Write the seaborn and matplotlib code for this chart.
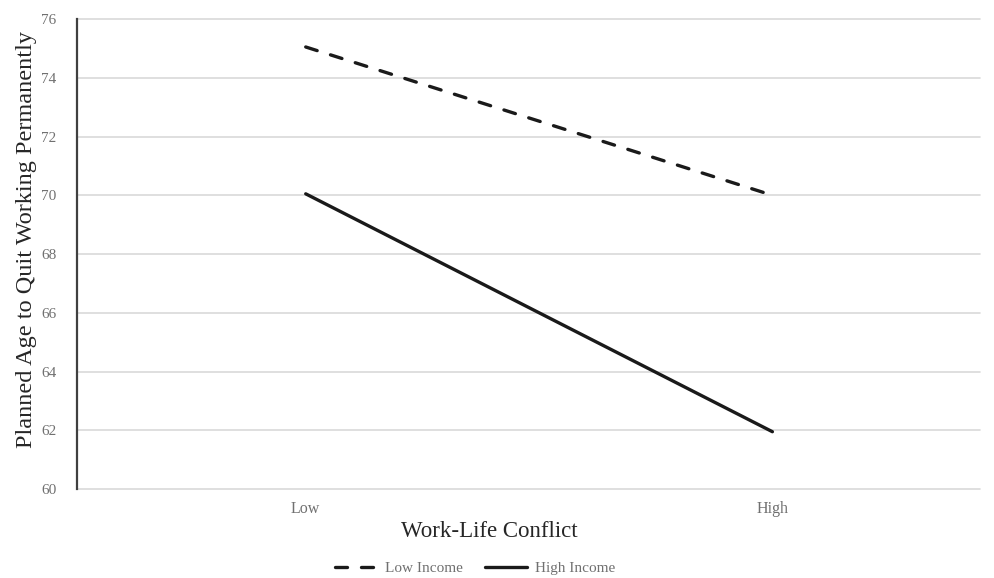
import pandas as pd
import matplotlib.pyplot as plt
import seaborn as sns

# data
conflict = ["Low", "High"]
low_income = [75.05, 70.0]
high_income = [70.05, 61.95]

df = pd.DataFrame({
    "Conflict": [0, 1, 0, 1],
    "Age": low_income + high_income,
    "Income": ["Low Income", "Low Income", "High Income", "High Income"],
})

sns.set_style("white")
plt.rcParams["font.family"] = ["Liberation Serif", "DejaVu Serif"]

fig = plt.figure(figsize=(9.94, 5.78), dpi=100)
ax = fig.add_axes([0.0775, 0.154, 0.9085, 0.813])

sns.lineplot(
    data=df, x="Conflict", y="Age", style="Income",
    style_order=["Low Income", "High Income"],
    dashes={"Low Income": (3.6, 4.2), "High Income": ""},
    color="#1a1a1a", linewidth=2.4, ax=ax, legend=True
)
for ln in ax.get_lines():
    ln.set_dash_capstyle("round")

ax.set_xlim(-0.49, 1.445)
ax.set_ylim(60, 76)
ax.set_yticks(range(60, 77, 2))
ax.set_xticks([0, 1])
ax.set_xticklabels(conflict)
ax.grid(axis="y", color="#d9d9d9", linewidth=1.2)
ax.set_axisbelow(True)
for gl in ax.get_ygridlines():
    gl.set_clip_on(False)

for s in ["top", "right", "bottom"]:
    ax.spines[s].set_visible(False)
ax.spines["left"].set_color("#404040")
ax.spines["left"].set_linewidth(1.6)

ax.tick_params(axis="y", length=0, labelsize=11, labelcolor="#707070", pad=15)
ax.tick_params(axis="x", length=0, labelsize=11.5, labelcolor="#707070", pad=9)
ax.set_xlabel("Work-Life Conflict", fontsize=16.5)
ax.set_ylabel("Planned Age to Quit Working Permanently", fontsize=17.5)
ax.xaxis.set_label_coords(0.456, -0.09)
ax.yaxis.set_label_coords(-0.056, 0.53)
ax.yaxis.label.set_verticalalignment("center")
ax.xaxis.label.set_verticalalignment("center")

handles, labels = ax.get_legend_handles_labels()
ax.get_legend().remove()
leg = fig.legend(
    handles, labels, loc="center", bbox_to_anchor=(0.478, 0.017), ncol=2,
    frameon=False, fontsize=11, handlelength=2.8, columnspacing=1.4,
    handletextpad=0.5, borderpad=0
)
for t in leg.get_texts():
    t.set_color("#707070")

fig.savefig("out.png", dpi=100)
